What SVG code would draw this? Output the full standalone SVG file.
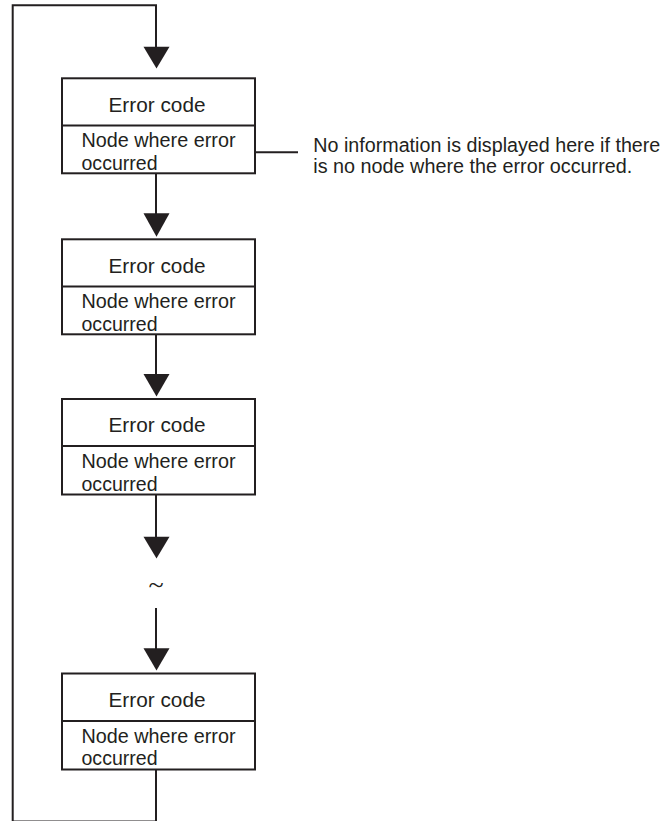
<svg xmlns="http://www.w3.org/2000/svg" width="666" height="821" viewBox="0 0 666 821">
<defs>
<style>
.box{fill:#fff;stroke:#231f20;stroke-width:2}
.ln{fill:none;stroke:#231f20;stroke-width:2}
.ah{fill:#231f20}
text{font-family:"Liberation Sans",Arial,sans-serif;font-size:19.5px;fill:#231f20}
.c{text-anchor:middle}
</style>
</defs>
<rect width="666" height="821" fill="#fff"/>
<g id="connectors">
<path class="ln" d="M156 770 V821.5 H12.7 V5.3 H156 V48"/>
<path class="ln" d="M156 173 V214"/>
<path class="ln" d="M156 334 V374"/>
<path class="ln" d="M156 494.5 V537"/>
<path class="ln" d="M156 608 V649"/>
<path class="ln" d="M255 152.3 H298"/>
<polygon class="ah" points="143.5,46.7 169.5,46.7 156.5,68.5"/>
<polygon class="ah" points="143.5,213.3 169.5,213.3 156.5,236.7"/>
<polygon class="ah" points="143.5,374 169.5,374 156.5,396.5"/>
<polygon class="ah" points="143.5,536.7 169.5,536.7 156.5,558.5"/>
<polygon class="ah" points="143.5,648.3 169.5,648.3 156.5,670.5"/>
</g>
<g id="node1">
<rect class="box" x="62" y="78.3" width="193" height="95"/>
<line class="ln" x1="62" y1="125.5" x2="255" y2="125.5"/>
<text class="c" x="157" y="111.7" textLength="97" lengthAdjust="spacingAndGlyphs">Error code</text>
<text x="81.5" y="147.3" textLength="154" lengthAdjust="spacingAndGlyphs">Node where error</text>
<text x="81.5" y="170" textLength="76" lengthAdjust="spacingAndGlyphs">occurred</text>
</g>
<g id="node2">
<rect class="box" x="62" y="239.3" width="193" height="95"/>
<line class="ln" x1="62" y1="286.5" x2="255" y2="286.5"/>
<text class="c" x="157" y="272.7" textLength="97" lengthAdjust="spacingAndGlyphs">Error code</text>
<text x="81.5" y="308.3" textLength="154" lengthAdjust="spacingAndGlyphs">Node where error</text>
<text x="81.5" y="331" textLength="76" lengthAdjust="spacingAndGlyphs">occurred</text>
</g>
<g id="node3">
<rect class="box" x="62" y="399" width="193" height="95.5"/>
<line class="ln" x1="62" y1="446" x2="255" y2="446"/>
<text class="c" x="157" y="432.4" textLength="97" lengthAdjust="spacingAndGlyphs">Error code</text>
<text x="81.5" y="468" textLength="154" lengthAdjust="spacingAndGlyphs">Node where error</text>
<text x="81.5" y="490.7" textLength="76" lengthAdjust="spacingAndGlyphs">occurred</text>
</g>
<g id="node4">
<rect class="box" x="62" y="673.5" width="193" height="96"/>
<line class="ln" x1="62" y1="721" x2="255" y2="721"/>
<text class="c" x="157" y="707" textLength="97" lengthAdjust="spacingAndGlyphs">Error code</text>
<text x="81.5" y="742.5" textLength="154" lengthAdjust="spacingAndGlyphs">Node where error</text>
<text x="81.5" y="765.2" textLength="76" lengthAdjust="spacingAndGlyphs">occurred</text>
</g>
<g id="ellipsis">
<text class="c" x="156" y="594" style="font-family:'Liberation Serif',serif;font-size:28px">~</text>
</g>
<g id="note">
<text x="313.3" y="151.7" textLength="347" lengthAdjust="spacingAndGlyphs">No information is displayed here if there</text>
<text x="313.3" y="173.3" textLength="319" lengthAdjust="spacingAndGlyphs">is no node where the error occurred.</text>
</g>
</svg>
